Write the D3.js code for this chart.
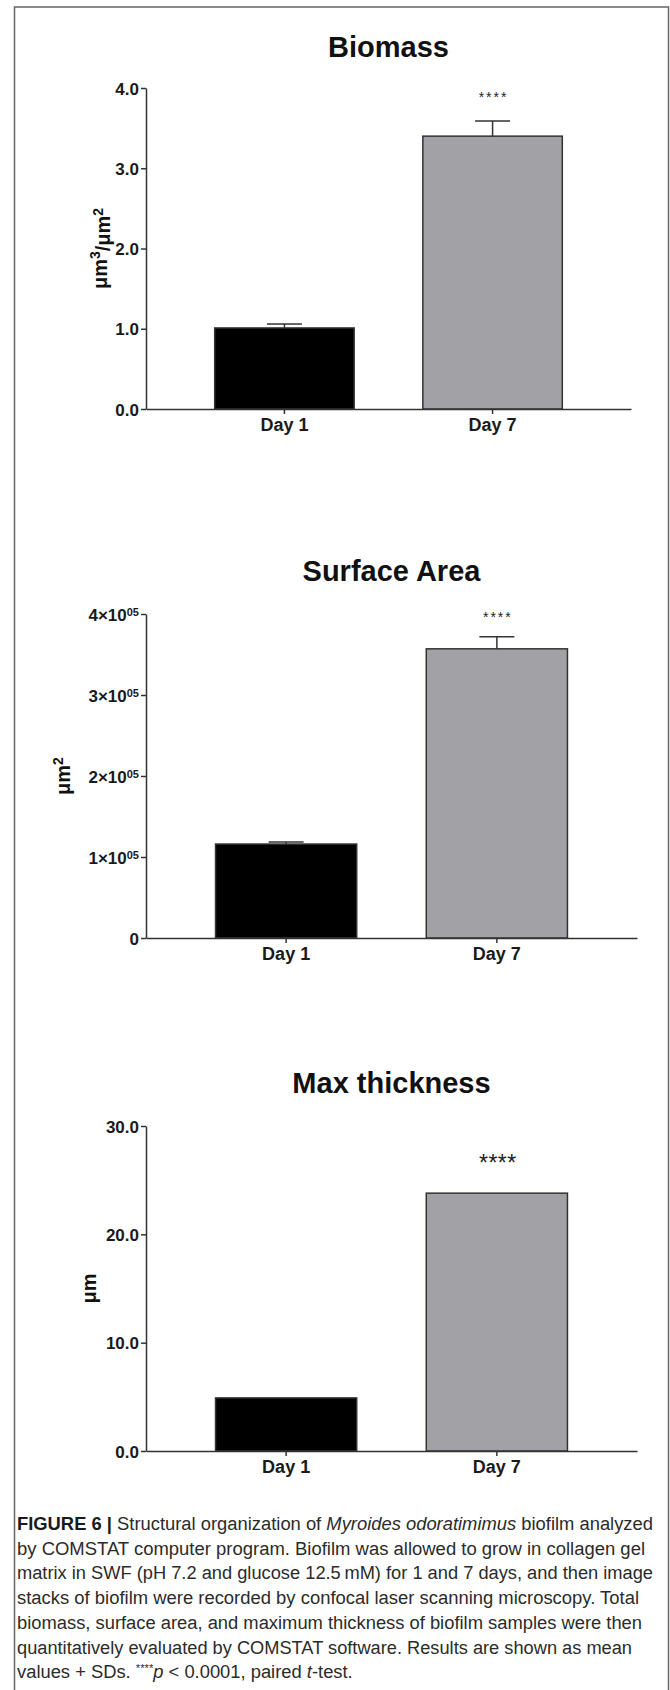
<!DOCTYPE html>
<html>
<head>
<meta charset="utf-8">
<script src="https://cdn.jsdelivr.net/npm/d3@7"></script>
<style>
  body { margin: 0; background: #fff; }
  svg { display: block; }
  text { font-family: "Liberation Sans", Arial, sans-serif; }
</style>
</head>
<body>
<div id="chart-area"></div>
<script>
// ---- data ----
const days = ["Day 1", "Day 7"]
const barColors = ["#000000", "#a2a1a6"]
const stars = ["", "****"]

const biomassMean = [1.01, 3.40]
const biomassSD = [0.05, 0.19]
const biomassTicks = [0, 1, 2, 3, 4]

const surfaceMean = [116000, 357000]
const surfaceSD = [2500, 15000]
const surfaceTicks = [0, 100000, 200000, 300000, 400000]

const thicknessMean = [4.9, 23.8]
const thicknessSD = [0, 0]
const thicknessTicks = [0, 10, 20, 30]

const captionLines = [
  [["FIGURE 6 | ", "b"], ["Structural organization of ", ""], ["Myroides odoratimimus", "i"], [" biofilm analyzed", ""]],
  [["by COMSTAT computer program. Biofilm was allowed to grow in collagen gel", ""]],
  [["matrix in SWF (pH 7.2 and glucose 12.5\u2009mM) for 1 and 7 days, and then image", ""]],
  [["stacks of biofilm were recorded by confocal laser scanning microscopy. Total", ""]],
  [["biomass, surface area, and maximum thickness of biofilm samples were then", ""]],
  [["quantitatively evaluated by COMSTAT software. Results are shown as mean", ""]],
  [["values + SDs. ", ""], ["****", "sup"], ["p", "i"], [" < 0.0001, paired ", ""], ["t", "i"], ["-test.", ""]]
]
const captionWidths = [636, 628, 636, 622, 625, 615, null]

const svg = d3.select("#chart-area").append("svg")
  .attr("width", 670)
  .attr("height", 1690)

// outer figure frame
svg.append("rect")
  .attr("x", 14.5).attr("y", 7)
  .attr("width", 654).attr("height", 1700)
  .attr("fill", "none")
  .attr("stroke", "#666")
  .attr("stroke-width", 1.5)

const panels = [
  { title: "Biomass", mean: biomassMean, sd: biomassSD, ticks: biomassTicks,
    fmt: d => d3.format(".1f")(d), sci: false,
    x0: 146, x1: 631, yTop: 88, yBottom: 409, titleY: 57,
    starY: 102, starSize: 14, starGap: 2,
    label: [["μm", 0], ["3", 1], ["/μm", 0], ["2", 1]], labelX: 107 },
  { title: "Surface Area", mean: surfaceMean, sd: surfaceSD, ticks: surfaceTicks,
    fmt: null, sci: true,
    x0: 146, x1: 637, yTop: 614, yBottom: 938, titleY: 581,
    starY: 622, starSize: 14, starGap: 2,
    label: [["μm", 0], ["2", 1]], labelX: 70 },
  { title: "Max thickness", mean: thicknessMean, sd: thicknessSD, ticks: thicknessTicks,
    fmt: d => d3.format(".1f")(d), sci: false,
    x0: 146, x1: 637, yTop: 1126, yBottom: 1451, titleY: 1093,
    starY: 1171, starSize: 23, starGap: 0.5,
    label: [["μm", 0]], labelX: 96 }
]

panels.forEach(p => {
  let g = svg.append("g")

  let x = d3.scaleBand()
    .domain(days)
    .range([p.x0, p.x1])
    .paddingInner(0.33)
    .paddingOuter(0.33)

  let y = d3.scaleLinear()
    .domain([0, d3.max(p.ticks)])
    .range([p.yBottom, p.yTop])

  // title
  g.append("text")
    .attr("x", (p.x0 + p.x1) / 2)
    .attr("y", p.titleY)
    .attr("text-anchor", "middle")
    .style("font-size", "29px")
    .style("font-weight", "bold")
    .attr("fill", "#111")
    .text(p.title)

  // bars
  let rows = days.map((d, i) => ({ day: d, mean: p.mean[i], sd: p.sd[i], color: barColors[i], star: stars[i] }))

  g.selectAll("rect.bar")
    .data(rows)
    .enter().append("rect")
      .attr("class", "bar")
      .attr("x", d => x(d.day))
      .attr("width", x.bandwidth())
      .attr("y", d => y(d.mean))
      .attr("height", d => y(0) - y(d.mean))
      .attr("fill", d => d.color)
      .attr("stroke", "#333")
      .attr("stroke-width", 1.5)

  // error bars (mean + SD only)
  let err = g.selectAll("g.err")
    .data(rows.filter(d => d.sd > 0))
    .enter().append("g")
      .attr("class", "err")
      .attr("stroke", "#333")
      .attr("stroke-width", 1.5)
  err.append("line")
    .attr("x1", d => x(d.day) + x.bandwidth() / 2)
    .attr("x2", d => x(d.day) + x.bandwidth() / 2)
    .attr("y1", d => y(d.mean))
    .attr("y2", d => y(d.mean + d.sd))
  err.append("line")
    .attr("x1", d => x(d.day) + x.bandwidth() / 2 - 17.5)
    .attr("x2", d => x(d.day) + x.bandwidth() / 2 + 17.5)
    .attr("y1", d => y(d.mean + d.sd))
    .attr("y2", d => y(d.mean + d.sd))

  // significance stars
  g.selectAll("text.star")
    .data(rows.filter(d => d.star))
    .enter().append("text")
      .attr("class", "star")
      .attr("x", d => x(d.day) + x.bandwidth() / 2 + 1)
      .attr("y", p.starY)
      .attr("text-anchor", "middle")
      .style("font-size", p.starSize + "px")
      .style("letter-spacing", p.starGap + "px")
      .attr("fill", "#222")
      .text(d => d.star)

  // y axis
  let yAxis = g.append("g")
    .attr("transform", "translate(" + p.x0 + ",0)")
    .call(d3.axisLeft(y).tickValues(p.ticks).tickSize(5).tickSizeOuter(0).tickPadding(2)
      .tickFormat(p.sci ? (d => d === 0 ? "0" : String(d / 1e5)) : p.fmt))

  if (p.sci) {
    yAxis.selectAll(".tick text").each(function(d) {
      if (d === 0) return
      let t = d3.select(this).text(null)
      t.append("tspan").text((d / 1e5) + "×10")
      t.append("tspan").attr("dy", "-0.45em").style("font-size", "11px").text("05")
    })
  }

  // x axis
  let xAxis = g.append("g")
    .attr("transform", "translate(0," + p.yBottom + ")")
    .call(d3.axisBottom(x).tickSize(5).tickSizeOuter(0).tickPadding(4))

  ;[yAxis, xAxis].forEach(a => {
    a.select(".domain").attr("stroke", "#333").attr("stroke-width", 1.5)
    a.selectAll(".tick line").attr("stroke", "#333").attr("stroke-width", 1.5)
    a.selectAll(".tick text")
      .attr("fill", "#1a1a1a")
      .style("font-family", "'Liberation Sans', Arial, sans-serif")
      .style("font-weight", "bold")
      .style("font-size", "17px")
  })
  xAxis.selectAll(".tick text").style("font-size", "18px")
  yAxis.selectAll(".tick text").attr("dy", "0.36em")

  // y label
  let lab = g.append("text")
    .attr("transform", "translate(" + p.labelX + "," + ((p.yTop + p.yBottom) / 2) + ") rotate(-90)")
    .attr("text-anchor", "middle")
    .style("font-size", "20px")
    .style("font-weight", "bold")
    .attr("fill", "#111")
  let lifted = false
  p.label.forEach(([s, sup]) => {
    let ts = lab.append("tspan").text(s)
    if (sup && !lifted) { ts.attr("dy", "-0.5em").style("font-size", "14px"); lifted = true }
    else if (!sup && lifted) { ts.attr("dy", "0.5em"); lifted = false }
    else if (sup) ts.style("font-size", "14px")
  })
})

// ---- caption ----
let cap = svg.append("g")
let lineNodes = []
captionLines.forEach((segs, i) => {
  let t = cap.append("text")
    .attr("x", 17)
    .attr("y", 1530 + i * 24.7)
    .style("font-size", "18px")
    .attr("fill", "#2b2b2b")
  let up = false
  segs.forEach(([s, st]) => {
    let ts = t.append("tspan").text(s)
    if (st === "b") ts.style("font-weight", "bold").attr("fill", "#1a1a1a")
    if (st === "i") ts.style("font-style", "italic")
    if (st === "sup") { ts.style("font-size", "11px").attr("dy", "-6"); up = true }
    else if (up) { ts.attr("dy", "6"); up = false }
  })
  lineNodes.push(t)
})

let ratios = []
lineNodes.forEach((t, i) => {
  let w = t.node().getComputedTextLength()
  if (captionWidths[i]) ratios.push(captionWidths[i] / w)
})
let meanRatio = d3.mean(ratios)
lineNodes.forEach((t, i) => {
  let w = t.node().getComputedTextLength()
  t.attr("textLength", captionWidths[i] || w * meanRatio)
    .attr("lengthAdjust", "spacingAndGlyphs")
})
</script>
</body>
</html>
